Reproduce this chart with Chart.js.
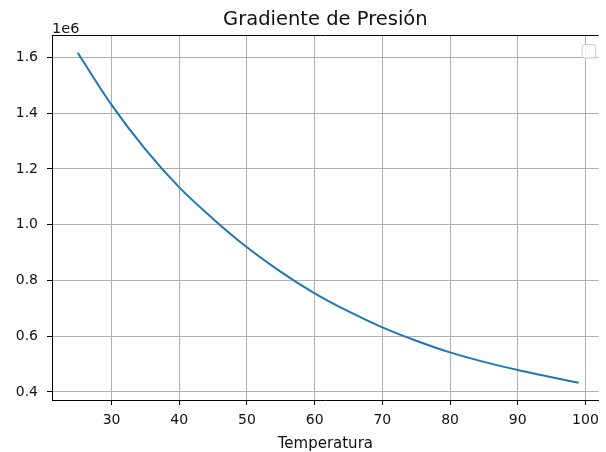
<!DOCTYPE html>
<html>
<head>
<meta charset="utf-8">
<script src="https://cdn.jsdelivr.net/npm/chart.js@4/dist/chart.umd.min.js"></script>
<style>
  html, body { margin: 0; padding: 0; overflow: hidden; background: #fff; }
  canvas { display: block; }
</style>
</head>
<body>
<canvas id="grafico" width="606" height="452"></canvas>
<script>
// Temperatura (°C) y presión (Pa)
const temperatura = [25, 30, 35, 40, 45, 50, 55, 60, 65, 70, 75, 80, 85, 90, 95, 99];
const presion = [1617000, 1430000, 1270000, 1134000, 1021000, 919000, 831000, 754000,
                 689000, 632000, 584000, 542000, 508000, 479000, 453000, 433000];

// Marcas de los ejes
const ticksX = [30, 40, 50, 60, 70, 80, 90, 100];
const ticksY = [400000, 600000, 800000, 1000000, 1200000, 1400000, 1600000];

const titulo = 'Gradiente de Presión';
const etiquetaX = 'Temperatura';
const factorY = '1e6';

const FUENTE = "'DejaVu Sans', sans-serif";
const GRIS = '#b0b0b0';
const TEXTO = '#111';

// Marco superior, factor de escala del eje Y y recuadro de leyenda vacío
const marco = {
  id: 'marco',
  afterDraw(chart) {
    const { ctx, chartArea: a } = chart;
    ctx.save();
    ctx.strokeStyle = '#000';
    ctx.lineWidth = 1;
    ctx.beginPath();
    ctx.moveTo(a.left, a.top + 0.5);
    ctx.lineTo(a.right, a.top + 0.5);
    ctx.stroke();

    ctx.fillStyle = TEXTO;
    ctx.font = '14.5px ' + FUENTE;
    ctx.textAlign = 'left';
    ctx.textBaseline = 'alphabetic';
    ctx.fillText(factorY, a.left, a.top - 2.5);

    ctx.beginPath();
    ctx.roundRect(a.right - 16.5, a.top + 9.5, 13.5, 13.5, 2.5);
    ctx.fillStyle = 'rgba(255,255,255,0.8)';
    ctx.fill();
    ctx.strokeStyle = '#cccccc';
    ctx.stroke();
    ctx.restore();
  }
};

new Chart(document.getElementById('grafico'), {
  type: 'line',
  data: {
    datasets: [{
      data: temperatura.map((t, i) => ({ x: t, y: presion[i] })),
      borderColor: '#1f77b4',
      borderWidth: 2,
      pointRadius: 0,
      fill: false,
      cubicInterpolationMode: 'monotone'
    }]
  },
  options: {
    responsive: false,
    animation: false,
    devicePixelRatio: 1,
    layout: { padding: 0 },
    plugins: {
      legend: { display: false },
      tooltip: { enabled: false },
      title: {
        display: true,
        text: titulo,
        fullSize: false,
        color: TEXTO,
        font: { family: FUENTE, size: 19.5, weight: 'normal' },
        padding: { top: 8, bottom: 3.6 }
      }
    },
    scales: {
      x: {
        type: 'linear',
        min: 21.2,
        max: 101.95,
        afterBuildTicks(s) { s.ticks = ticksX.map(v => ({ value: v })); },
        afterFit(s) { s.height = 52; },
        grid: { color: GRIS, lineWidth: 1, tickColor: '#000', tickLength: 5, tickWidth: 1 },
        border: { display: true, color: '#000', width: 1 },
        ticks: {
          color: TEXTO,
          padding: 7,
          maxRotation: 0,
          font: { family: FUENTE, size: 14 },
          callback: v => String(v)
        },
        title: {
          display: true,
          text: etiquetaX,
          color: TEXTO,
          font: { family: FUENTE, size: 15 },
          padding: { top: 0, bottom: -1 }
        }
      },
      y: {
        type: 'linear',
        min: 371300,
        max: 1680700,
        afterBuildTicks(s) { s.ticks = ticksY.map(v => ({ value: v })); },
        afterFit(s) { s.width = 52; },
        grid: { color: GRIS, lineWidth: 1, tickColor: '#000', tickLength: 5, tickWidth: 1 },
        border: { display: true, color: '#000', width: 1 },
        ticks: {
          color: TEXTO,
          padding: 9,
          font: { family: FUENTE, size: 14 },
          callback: v => (v / 1e6).toFixed(1)
        }
      }
    }
  },
  plugins: [marco]
});
</script>
</body>
</html>
